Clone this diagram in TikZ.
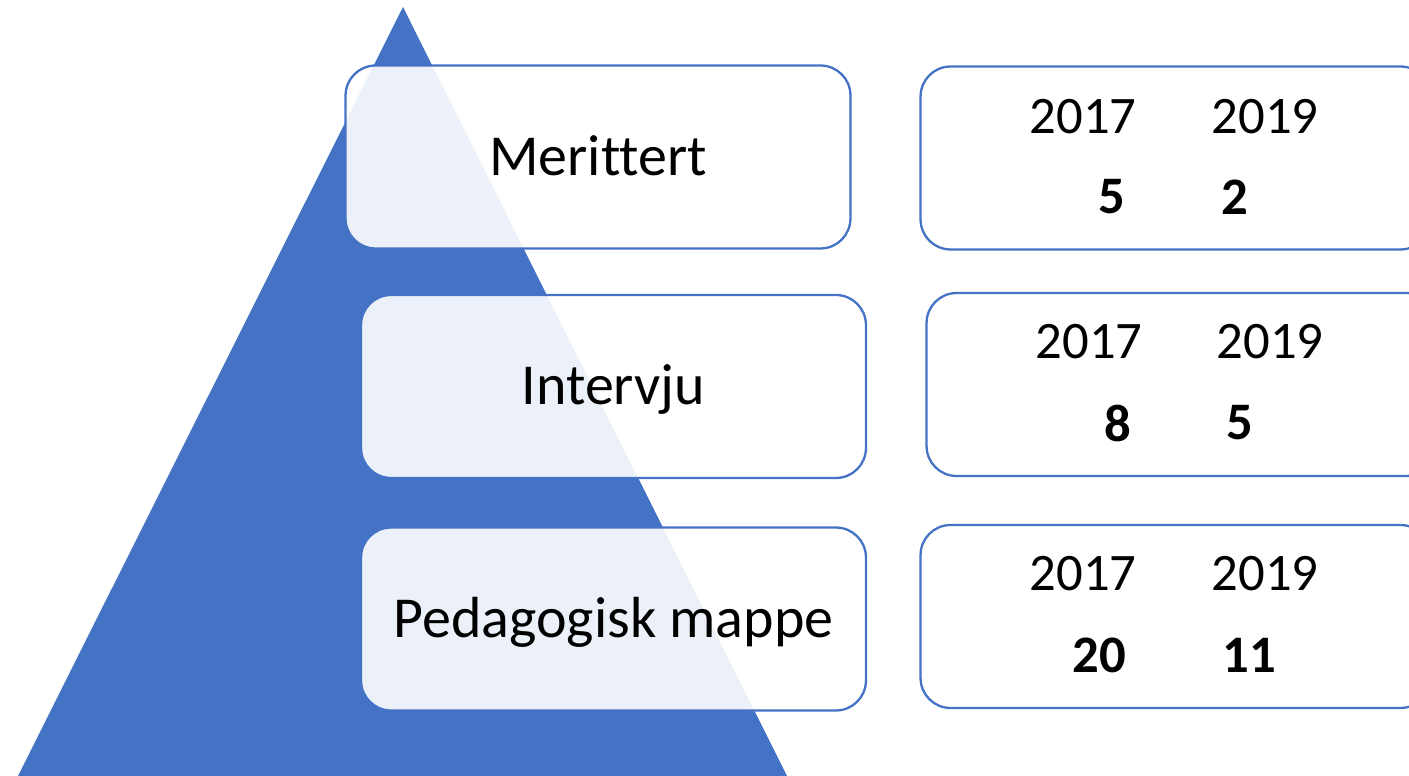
\documentclass[tikz,border=0pt]{standalone}
\usepackage{fontspec}
\setmainfont{Carlito}[Ligatures=NoCommon]
\usetikzlibrary{positioning}
\definecolor{kontorblaa}{HTML}{4472C4}
\tikzset{
    %Define style for the level boxes
    trinn/.style={
           rectangle,
           rounded corners=0.6cm,
           draw=kontorblaa, line width=1.3pt,
           fill=white, fill opacity=0.9, text opacity=1,
           minimum width=10.1cm,
           minimum height=3.66cm,
           text height=21pt, text depth=0pt,
           font=\fontsize{33}{40}\selectfont},
    %Define style for the number boxes
    tallboks/.style={
           trinn,
           fill opacity=1,
           minimum width=10.2cm},
    % Define text styles
    aar/.style={inner sep=0pt, font=\fontsize{30}{36}\selectfont},
    tall/.style={inner sep=0pt, font=\fontsize{30}{36}\selectfont\bfseries}
}

\begin{document}
\begin{tikzpicture}[x=0.02cm, y=-0.02cm]
 \useasboundingbox (0,0) rectangle (1409,776);
 \clip (0,0) rectangle (1409,776);
 % pyramid
 \coordinate (topp) at (403,7);
 \coordinate (venstre) at (18,776);
 \coordinate (hoyre) at (787,776);
 \fill[kontorblaa] (topp) -- (venstre) -- (hoyre) -- cycle;
 %nodes
 \node[trinn] (merittert) at (598,157) {Merittert};
 \node[trinn] (intervju) at (613.5,386.5) {Intervju};
 \node[trinn] (mappe) at (613.5,619) {Pedagogisk mappe};
 % number boxes, cut by the right edge
 \node[tallboks] (tall1) at (1175.5,158) {};
 \node[tallboks] (tall2) at (1181.5,384.5) {};
 \node[tallboks] (tall3) at (1175.5,616.5) {};
 % years and counts
 \node[aar] (a17) at (1083,117) {2017};
 \node[aar] (a19) at (1265,117) {2019};
 \node[tall] (m17) at (1112,197) {5};
 \node[tall] (m19) at (1235,197) {2};
 \node[aar] (b17) at (1089,342) {2017};
 \node[aar] (b19) at (1270,342) {2019};
 \node[tall] (i17) at (1118,423) {8};
 \node[tall] (i19) at (1240,423) {5};
 \node[aar] (c17) at (1083,574) {2017};
 \node[aar] (c19) at (1265,574) {2019};
 \node[tall] (p17) at (1099,655) {20};
 \node[tall] (p19) at (1249,655) {11};
\end{tikzpicture}
\end{document}
